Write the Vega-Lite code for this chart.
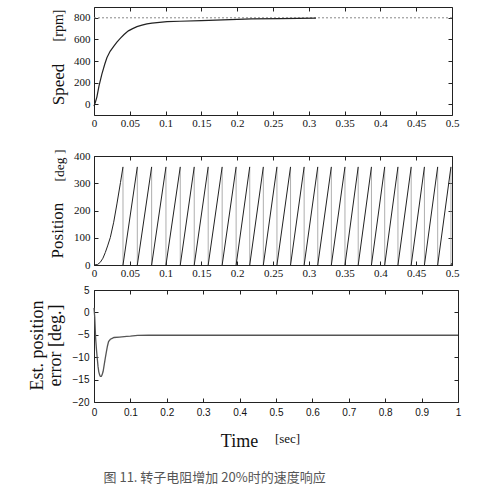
{
  "$schema": "https://vega.github.io/schema/vega-lite/v6.json",
  "padding": {"left": 27, "top": 6, "right": 10, "bottom": 5},
  "background": "#ffffff",
  "datasets": {
    "speed": [
      {"t": 0, "v": -18}, {"t": 0.002, "v": 20}, {"t": 0.004, "v": 66}, {"t": 0.007, "v": 170},
      {"t": 0.011, "v": 279}, {"t": 0.015, "v": 370}, {"t": 0.018, "v": 430}, {"t": 0.0225, "v": 490},
      {"t": 0.0275, "v": 536}, {"t": 0.032, "v": 575}, {"t": 0.037, "v": 612}, {"t": 0.042, "v": 645},
      {"t": 0.048, "v": 679}, {"t": 0.054, "v": 700}, {"t": 0.06, "v": 718}, {"t": 0.067, "v": 732},
      {"t": 0.074, "v": 743}, {"t": 0.081, "v": 750}, {"t": 0.088, "v": 755}, {"t": 0.095, "v": 760},
      {"t": 0.102, "v": 764}, {"t": 0.12, "v": 768}, {"t": 0.15, "v": 773}, {"t": 0.18, "v": 780},
      {"t": 0.2, "v": 785}, {"t": 0.22, "v": 790}, {"t": 0.26, "v": 793}, {"t": 0.31, "v": 797}
    ],
    "ref": [{"t": 0, "v": 800}, {"t": 0.5, "v": 800}],
    "pos": [
      {"c": 0, "t": 0, "p": 0}, {"c": 0, "t": 0.005, "p": 2}, {"c": 0, "t": 0.0088, "p": 10},
      {"c": 0, "t": 0.0125, "p": 25}, {"c": 0, "t": 0.0158, "p": 46}, {"c": 0, "t": 0.019, "p": 70},
      {"c": 0, "t": 0.0228, "p": 101}, {"c": 0, "t": 0.0275, "p": 157}, {"c": 0, "t": 0.032, "p": 224},
      {"c": 0, "t": 0.037, "p": 303}, {"c": 0, "t": 0.0405, "p": 360},
      {"c": 1, "t": 0.0405, "p": 0}, {"c": 1, "t": 0.0605, "p": 360},
      {"c": 2, "t": 0.0605, "p": 0}, {"c": 2, "t": 0.0805, "p": 360},
      {"c": 3, "t": 0.0805, "p": 0}, {"c": 3, "t": 0.1005, "p": 360},
      {"c": 4, "t": 0.1005, "p": 0}, {"c": 4, "t": 0.1205, "p": 360},
      {"c": 5, "t": 0.1205, "p": 0}, {"c": 5, "t": 0.140, "p": 360},
      {"c": 6, "t": 0.140, "p": 0}, {"c": 6, "t": 0.1595, "p": 360},
      {"c": 7, "t": 0.1595, "p": 0}, {"c": 7, "t": 0.179, "p": 360},
      {"c": 8, "t": 0.179, "p": 0}, {"c": 8, "t": 0.1985, "p": 360},
      {"c": 9, "t": 0.1985, "p": 0}, {"c": 9, "t": 0.2175, "p": 360},
      {"c": 10, "t": 0.2175, "p": 0}, {"c": 10, "t": 0.2365, "p": 360},
      {"c": 11, "t": 0.2365, "p": 0}, {"c": 11, "t": 0.2555, "p": 360},
      {"c": 12, "t": 0.2555, "p": 0}, {"c": 12, "t": 0.2745, "p": 360},
      {"c": 13, "t": 0.2745, "p": 0}, {"c": 13, "t": 0.2935, "p": 360},
      {"c": 14, "t": 0.2935, "p": 0}, {"c": 14, "t": 0.3125, "p": 360},
      {"c": 15, "t": 0.3125, "p": 0}, {"c": 15, "t": 0.3315, "p": 360},
      {"c": 16, "t": 0.3315, "p": 0}, {"c": 16, "t": 0.3505, "p": 360},
      {"c": 17, "t": 0.3505, "p": 0}, {"c": 17, "t": 0.369, "p": 360},
      {"c": 18, "t": 0.369, "p": 0}, {"c": 18, "t": 0.3875, "p": 360},
      {"c": 19, "t": 0.3875, "p": 0}, {"c": 19, "t": 0.406, "p": 360},
      {"c": 20, "t": 0.406, "p": 0}, {"c": 20, "t": 0.4245, "p": 360},
      {"c": 21, "t": 0.4245, "p": 0}, {"c": 21, "t": 0.443, "p": 360},
      {"c": 22, "t": 0.443, "p": 0}, {"c": 22, "t": 0.4615, "p": 360},
      {"c": 23, "t": 0.4615, "p": 0}, {"c": 23, "t": 0.480, "p": 360},
      {"c": 24, "t": 0.480, "p": 0}, {"c": 24, "t": 0.4985, "p": 360},
      {"c": 25, "t": 0.4985, "p": 0}, {"c": 25, "t": 0.5, "p": 7}
    ],
    "err": [
      {"t": 0, "e": 1}, {"t": 0.002, "e": -1}, {"t": 0.0045, "e": -5.8}, {"t": 0.007, "e": -8.5},
      {"t": 0.009, "e": -10.3}, {"t": 0.011, "e": -12}, {"t": 0.013, "e": -13.2}, {"t": 0.0155, "e": -14},
      {"t": 0.0175, "e": -14.3}, {"t": 0.02, "e": -14.3}, {"t": 0.022, "e": -14}, {"t": 0.025, "e": -13.2},
      {"t": 0.028, "e": -11.7}, {"t": 0.031, "e": -10.2}, {"t": 0.034, "e": -8.8}, {"t": 0.037, "e": -7.5},
      {"t": 0.04, "e": -6.5}, {"t": 0.045, "e": -6}, {"t": 0.05, "e": -5.8}, {"t": 0.055, "e": -5.6},
      {"t": 0.07, "e": -5.5}, {"t": 0.09, "e": -5.35}, {"t": 0.1, "e": -5.3}, {"t": 0.12, "e": -5.15},
      {"t": 0.15, "e": -5.1}, {"t": 0.3, "e": -5.1}, {"t": 0.5, "e": -5.1}, {"t": 0.7, "e": -5.1}, {"t": 1, "e": -5.1}
    ]
  },
  "config": {
    "view": {"stroke": "#222", "strokeWidth": 1},
    "axis": {
      "grid": false, "domain": false, "tickColor": "#222", "tickSize": -4, "tickWidth": 1,
      "labelFont": "Liberation Serif", "labelFontSize": 11, "labelColor": "#111", "labelPadding": 8,
      "labelFlush": false, "titleFont": "Liberation Serif", "titleFontWeight": "normal", "titleColor": "#111"
    }
  },
  "title": {
    "text": "图 11. 转子电阻增加 20%时的速度响应",
    "orient": "bottom", "anchor": "start", "frame": "bounds",
    "font": "Noto Sans CJK SC", "fontSize": 13, "fontWeight": "normal", "color": "#555",
    "offset": 21, "dx": 76
  },
  "spacing": 5,
  "vconcat": [
    {
      "spacing": 19,
      "vconcat": [
        {
          "width": 358, "height": 108,
          "resolve": {"axis": {"x": "independent", "y": "independent"}},
          "layer": [
            {
              "data": {"name": "ref"},
              "mark": {"type": "line", "color": "#888", "strokeWidth": 1, "strokeDash": [2, 2]},
              "encoding": {
                "x": {"field": "t", "type": "quantitative", "scale": {"domain": [0, 0.5], "nice": false},
                  "axis": {"orient": "top", "values": [0, 0.05, 0.1, 0.15, 0.2, 0.25, 0.3, 0.35, 0.4, 0.45, 0.5], "labels": false, "title": null}},
                "y": {"field": "v", "type": "quantitative", "scale": {"domain": [-100, 900], "nice": false},
                  "axis": {"orient": "right", "values": [0, 200, 400, 600, 800], "labels": false,
                    "title": "[rpm]", "titleFontSize": 14, "titleAngle": 270, "titleBaseline": "middle", "titleAlign": "center",
                    "titleX": -394, "titleY": 18}}
              }
            },
            {
              "data": {"name": "speed"},
              "mark": {"type": "line", "color": "#222", "strokeWidth": 1.2},
              "encoding": {
                "x": {"field": "t", "type": "quantitative", "scale": {"domain": [0, 0.5], "nice": false},
                  "axis": {"orient": "bottom", "values": [0, 0.05, 0.1, 0.15, 0.2, 0.25, 0.3, 0.35, 0.4, 0.45, 0.5], "format": "~g", "title": null,
                    "labelPadding": 6, "labelFont": "Liberation Serif", "labelFontSize": 11}},
                "y": {"field": "v", "type": "quantitative", "scale": {"domain": [-100, 900], "nice": false},
                  "axis": {"orient": "left", "values": [0, 200, 400, 600, 800], "labelFont": "Liberation Serif", "labelFontSize": 11,
                    "title": "Speed", "titleFontSize": 17, "titleAngle": 270, "titleBaseline": "middle", "titleAlign": "center",
                    "titleX": -36, "titleY": 77}}
              }
            }
          ]
        },
        {
          "width": 358, "height": 109,
          "resolve": {"axis": {"x": "independent", "y": "independent"}},
          "layer": [
            {
              "data": {"name": "pos"},
              "transform": [{"filter": "datum.p >= 359"}],
              "mark": {"type": "rule", "color": "#999", "strokeWidth": 0.8},
              "encoding": {
                "x": {"field": "t", "type": "quantitative", "scale": {"domain": [0, 0.5], "nice": false},
                  "axis": {"orient": "top", "values": [0, 0.05, 0.1, 0.15, 0.2, 0.25, 0.3, 0.35, 0.4, 0.45, 0.5], "labels": false, "title": null}},
                "y": {"field": "p", "type": "quantitative", "scale": {"domain": [0, 400], "nice": false},
                  "axis": {"orient": "right", "values": [0, 100, 200, 300, 400], "labels": false,
                    "title": "[deg ]", "titleFontSize": 13.5, "titleAngle": 270, "titleBaseline": "middle", "titleAlign": "center",
                    "titleX": -393, "titleY": 9}},
                "y2": {"datum": 0}
              }
            },
            {
              "data": {"name": "pos"},
              "mark": {"type": "line", "color": "#222", "strokeWidth": 1},
              "encoding": {
                "detail": {"field": "c", "type": "nominal"},
                "x": {"field": "t", "type": "quantitative", "scale": {"domain": [0, 0.5], "nice": false},
                  "axis": {"orient": "bottom", "values": [0, 0.05, 0.1, 0.15, 0.2, 0.25, 0.3, 0.35, 0.4, 0.45, 0.5], "format": "~g", "title": null,
                    "labelPadding": 6, "labelFont": "Liberation Serif", "labelFontSize": 11}},
                "y": {"field": "p", "type": "quantitative", "scale": {"domain": [0, 400], "nice": false},
                  "axis": {"orient": "left", "values": [0, 100, 200, 300, 400], "labelFont": "Liberation Serif", "labelFontSize": 11,
                    "title": "Position", "titleFontSize": 17, "titleAngle": 270, "titleBaseline": "middle", "titleAlign": "center",
                    "titleX": -37, "titleY": 74}}
              }
            }
          ]
        }
      ]
    },
    {
      "width": 364, "height": 112,
      "resolve": {"axis": {"x": "independent", "y": "independent"}},
      "layer": [
        {
          "data": {"name": "err"},
          "mark": {"type": "line", "color": "#555", "strokeWidth": 1.3},
          "encoding": {
            "x": {"field": "t", "type": "quantitative", "scale": {"domain": [0, 1], "nice": false},
              "axis": {"orient": "bottom", "values": [0, 0.1, 0.2, 0.3, 0.4, 0.5, 0.6, 0.7, 0.8, 0.9, 1], "format": "~g",
                "labelFont": "Liberation Sans", "labelFontSize": 10, "labelPadding": 9,
                "title": "Time", "titleFontSize": 18, "titleBaseline": "middle", "titleAlign": "center", "titleAngle": 0,
                "titleX": 145, "titleY": 39}},
            "y": {"field": "e", "type": "quantitative", "scale": {"domain": [-20, 5], "nice": false},
              "axis": {"orient": "left", "values": [-20, -15, -10, -5, 0, 5],
                "labelFont": "Liberation Sans", "labelFontSize": 10, "labelPadding": 9,
                "title": ["Est.  position", "error [deg.]"], "titleFontSize": 18, "titleLineHeight": 18,
                "titleAngle": 270, "titleBaseline": "middle", "titleAlign": "center",
                "titleX": -57, "titleY": 55}}
          }
        },
        {
          "data": {"name": "err"},
          "mark": {"type": "line", "opacity": 0},
          "encoding": {
            "x": {"field": "t", "type": "quantitative", "scale": {"domain": [0, 1], "nice": false},
              "axis": {"orient": "top", "values": [0, 0.1, 0.2, 0.3, 0.4, 0.5, 0.6, 0.7, 0.8, 0.9, 1], "labels": false,
                "title": "[sec]", "titleFontSize": 13, "titleBaseline": "middle", "titleAlign": "center", "titleAngle": 0,
                "titleX": 193, "titleY": 148}},
            "y": {"field": "e", "type": "quantitative", "scale": {"domain": [-20, 5], "nice": false},
              "axis": {"orient": "right", "values": [-20, -15, -10, -5, 0, 5], "labels": false, "title": null}}
          }
        }
      ]
    }
  ]
}
